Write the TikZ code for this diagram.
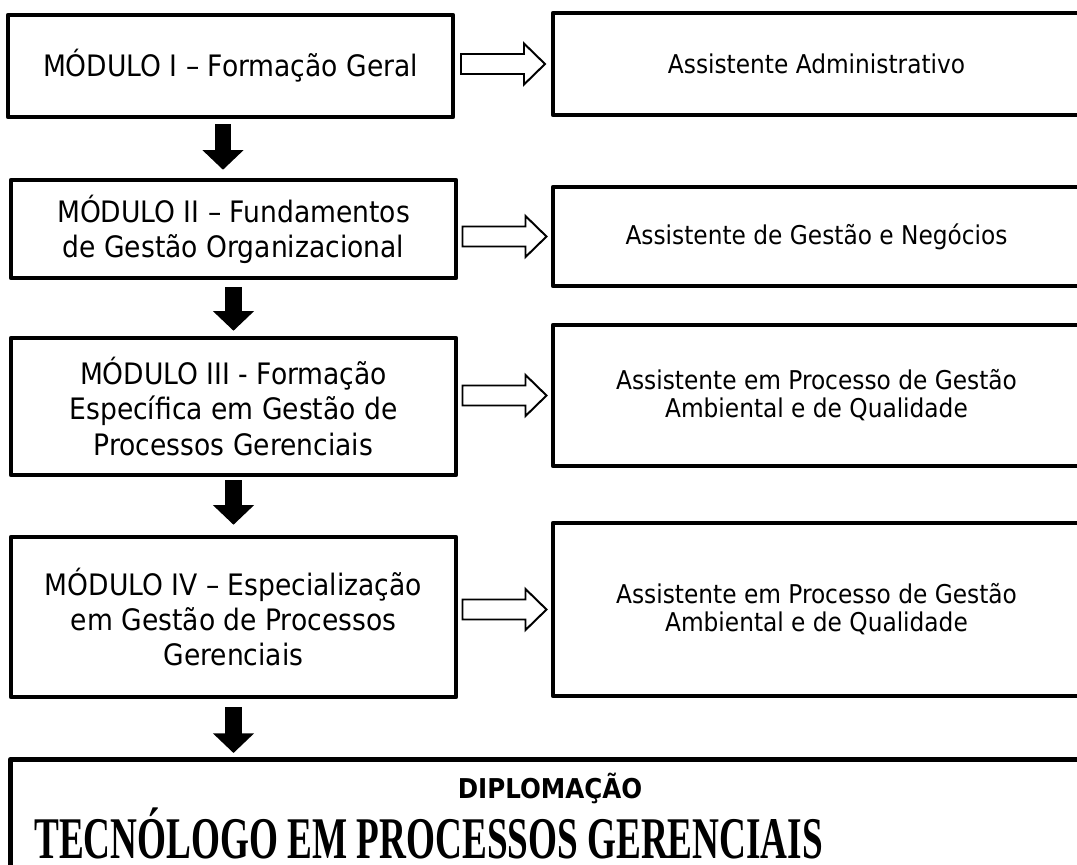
\documentclass[tikz,border=0pt]{standalone}
\usepackage{fontspec}
\setmainfont{DejaVu Sans Condensed}
\newfontfamily\titlefont{Liberation Serif}
\usetikzlibrary{calc,arrows.meta}

\newcommand{\pxl}[1]{#1*0.025cm}

\tikzset{
  modbox/.style={draw, line width=3.2pt, line join=round, align=center, inner sep=0pt,
    font=\fontsize{21}{25}\selectfont, minimum width=\pxl{445}},
  jobbox/.style={draw, line width=3.2pt, line join=round, align=center, inner sep=0pt,
    font=\fontsize{18.4}{20}\selectfont, minimum width=\pxl{527}},
  downarrow/.style={line width=11.4pt, -{Triangle[width=28.5pt,length=14pt]}},
  hollow/.style={draw, line width=1.4pt, fill=white}
}

\begin{document}
\begin{tikzpicture}[x=0.025cm, y=-0.025cm]
  \useasboundingbox (0,0) rectangle (1077,864);

  % modulos
  \node[modbox, minimum height=\pxl{102}] (m1) at (230.5,66) {MÓDULO I – Formação Geral};
  \node[modbox, minimum height=\pxl{98}] (m2) at (233.5,229) {MÓDULO II – Fundamentos\\de Gestão Organizacional};
  \node[modbox, minimum height=\pxl{137}] (m3) at (233.5,406.5) {MÓDULO III - Formação\\Específica em Gestão de\\Processos Gerenciais};
  \node[modbox, minimum height=\pxl{160}] (m4) at (233.5,617) {MÓDULO IV – Especialização\\em Gestão de Processos\\Gerenciais};

  % saidas
  \node[jobbox, minimum height=\pxl{102}] (j1) at (816.5,64) {Assistente Administrativo};
  \node[jobbox, minimum height=\pxl{99}] (j2) at (816.5,236.5) {Assistente de Gestão e Negócios};
  \node[jobbox, minimum height=\pxl{141}] (j3) at (816.5,395.5) {Assistente em Processo de Gestão\\Ambiental e de Qualidade};
  \node[jobbox, minimum height=\pxl{173}] (j4) at (816.5,609.5) {Assistente em Processo de Gestão\\Ambiental e de Qualidade};

  % diploma
  \node[draw, line width=3.2pt, line join=round, anchor=north west, minimum width=\pxl{1072}, minimum height=\pxl{130}] (dip) at (8,757) {};
  \node[font=\bfseries\fontsize{19.4}{22}\selectfont] (diptit) at (550,788) {DIPLOMAÇÃO};
  \node[anchor=west, inner sep=0pt, font=\titlefont\bfseries\fontsize{42}{46}\selectfont] (curso) at (34,833) {\scalebox{0.63}[1]{TECNÓLOGO EM PROCESSOS GERENCIAIS}};

  % setas pretas
  \draw[downarrow] ($(m1.south)+(-7.5,5)$) -- ($(m1.south |- m2.north)+(-7.5,-8)$);
  \draw[downarrow] ($(m2.south)+(0,7)$) -- ($(m2.south |- m3.north)+(0,-5)$);
  \draw[downarrow] ($(m3.south)+(0,3)$) -- ($(m3.south |- m4.north)+(0,-10)$);
  \draw[downarrow] ($(m4.south)+(0,8)$) -- ($(m4.south |- dip.north)+(0,-4)$);

  % setas vazadas
  \foreach \l/\r in {m1/j1, m2/j2, m3/j3, m4/j4}{
    \coordinate (h) at ($(\l.east |- \r.west)!0.5!(\r.west)$);
    \draw[hollow] ($(h)+(-42,-10)$) --++ (63,0) --++ (0,-10.5) --++ (21,20.5) --++ (-21,20.5) --++ (0,-10.5) --++ (-63,0) -- cycle;
  }
\end{tikzpicture}
\end{document}
